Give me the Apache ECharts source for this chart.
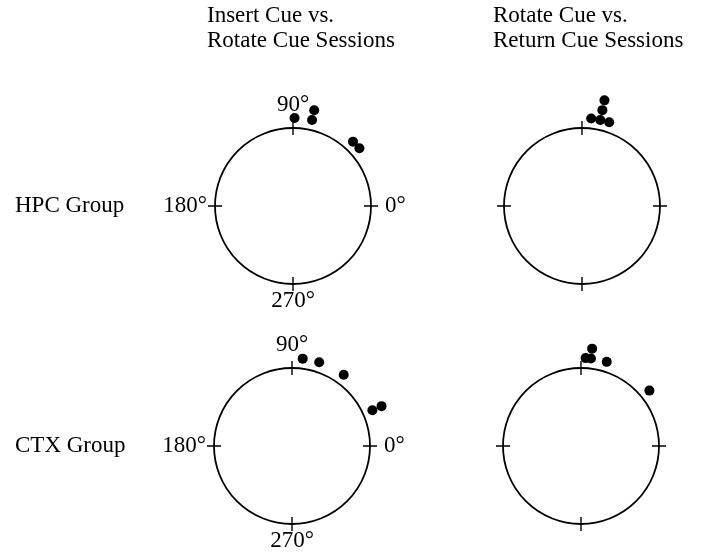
<!DOCTYPE html>
<html>
<head>
<meta charset="utf-8">
<script src="https://cdn.jsdelivr.net/npm/echarts@6/dist/echarts.min.js"></script>
<style>
  html, body { margin: 0; padding: 0; background: #fff; }
  #chart { width: 703px; height: 555px; }
</style>
</head>
<body>
<div id="chart"></div>
<script>
// Preferred direction angles (degrees) of each cell, one array per panel
const columnTitles = ['Insert Cue vs.\nRotate Cue Sessions', 'Rotate Cue vs.\nReturn Cue Sessions'];
const rowTitles = ['HPC Group', 'CTX Group'];
const angleTickLabels = ['0°', '90°', '180°', '270°'];

const hpcInsertVsRotate = [89, 77.5, 77.5, 47, 41];
const hpcRotateVsReturn = [84, 78, 78, 78, 72];
const ctxInsertVsRotate = [83, 72, 54, 24, 24];
const ctxRotateVsReturn = [87, 83.5, 83.5, 73, 39];

const FONT = "'Liberation Serif', 'Times New Roman', serif";
const CIRCLE_R = 78;     // drawn circle radius (px)
const DOT_POLAR_R = 110; // outer polar used to place dots outside the circle
const RING0 = 88;        // first ring of dots
const RING_STEP = 10;    // spacing between stacked dots at the same angle

const panels = [
  { data: hpcInsertVsRotate, center: [293, 206], labels: true },
  { data: hpcRotateVsReturn, center: [582, 206], labels: false },
  { data: ctxInsertVsRotate, center: [292, 446], labels: true },
  { data: ctxRotateVsReturn, center: [581, 446], labels: false }
];

// Dots at the same angle stack outward, one ring each
function stackDots(angles) {
  const seen = {};
  return angles.map(a => {
    const k = seen[a] || 0;
    seen[a] = k + 1;
    return [RING0 + k * RING_STEP, a];
  });
}

const polar = [], angleAxis = [], radiusAxis = [], series = [];

panels.forEach((p, i) => {
  const base = i * 3;
  // 1) the circle itself, with degree labels
  polar.push({ center: p.center, radius: CIRCLE_R });
  angleAxis.push({
    polarIndex: base, type: 'value', min: 0, max: 360, interval: 90,
    startAngle: 0, clockwise: false,
    axisLine: { show: true, lineStyle: { color: '#000', width: 1.8 } },
    axisTick: { show: false },
    splitLine: { show: false },
    axisLabel: {
      show: p.labels, margin: 5, color: '#000', fontFamily: FONT, fontSize: 23,
      formatter: function (v) {
        if (v === 90) return '{t|' + angleTickLabels[1] + '}';
        if (v === 270) return '{b|' + angleTickLabels[3] + '}';
        if (v === 0) return '{r|' + angleTickLabels[0] + '}';
        if (v === 180) return '{l|' + angleTickLabels[2] + '}';
        return '';
      },
      rich: {
        t: { fontFamily: FONT, fontSize: 23, color: '#000', padding: [0, 0, 7, 0] },
        b: { fontFamily: FONT, fontSize: 23, color: '#000', padding: [0, 0, 0, 0] },
        r: { fontFamily: FONT, fontSize: 23, color: '#000', padding: [0, 0, 0, 9] },
        l: { fontFamily: FONT, fontSize: 23, color: '#000', padding: [0, 3, 0, 0] }
      }
    }
  });
  radiusAxis.push({ polarIndex: base, show: false, min: 0, max: 1 });

  // 2) cross ticks at 0/90/180/270
  polar.push({ center: p.center, radius: CIRCLE_R + 7 });
  angleAxis.push({
    polarIndex: base + 1, type: 'value', min: 0, max: 360, interval: 90,
    startAngle: 0, clockwise: false,
    axisLine: { show: false },
    axisTick: { show: true, inside: true, length: 14, lineStyle: { color: '#000', width: 1.4 } },
    splitLine: { show: false },
    axisLabel: { show: false }
  });
  radiusAxis.push({ polarIndex: base + 1, show: false, min: 0, max: 1 });

  // 3) the dot layer
  polar.push({ center: p.center, radius: DOT_POLAR_R });
  angleAxis.push({
    polarIndex: base + 2, type: 'value', min: 0, max: 360,
    startAngle: 0, clockwise: false, show: false
  });
  radiusAxis.push({ polarIndex: base + 2, show: false, min: 0, max: DOT_POLAR_R });

  series.push({
    type: 'scatter', coordinateSystem: 'polar', polarIndex: base + 2,
    symbol: 'circle', symbolSize: 10,
    itemStyle: { color: '#000', opacity: 1 },
    data: stackDots(p.data),
    silent: true
  });
});

const textStyle = { fontFamily: FONT, fontSize: 23, fontWeight: 'normal', color: '#000', lineHeight: 25 };

const chart = echarts.init(document.getElementById('chart'), null, { renderer: 'canvas' });
chart.setOption({
  backgroundColor: '#fff',
  animation: false,
  title: [
    { text: columnTitles[0], left: 207, top: 3, padding: 0, textStyle: textStyle },
    { text: columnTitles[1], left: 493, top: 3, padding: 0, textStyle: textStyle },
    { text: rowTitles[0], left: 15, top: 193, padding: 0, textStyle: textStyle },
    { text: rowTitles[1], left: 15, top: 433, padding: 0, textStyle: textStyle }
  ],
  polar: polar,
  angleAxis: angleAxis,
  radiusAxis: radiusAxis,
  series: series
});
</script>
</body>
</html>
